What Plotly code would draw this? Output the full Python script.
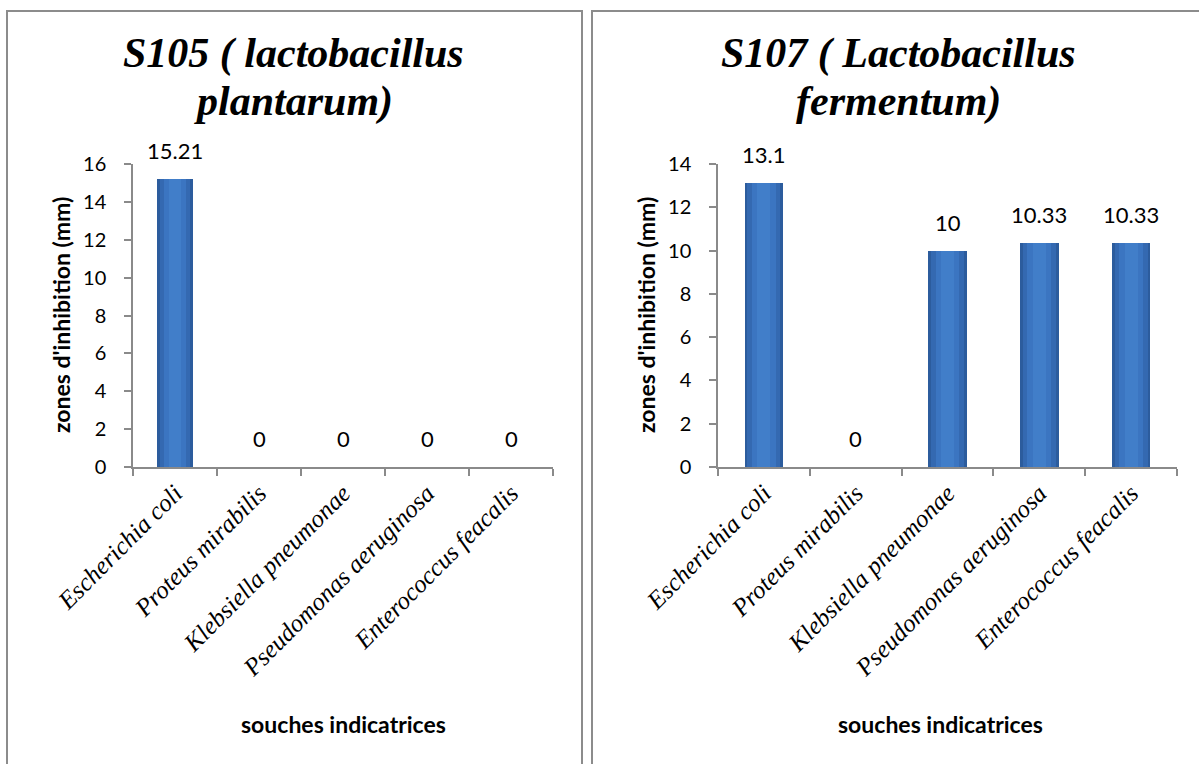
import plotly.graph_objects as go

# Inhibition zones (mm) measured against each indicator strain
souches = ["Escherichia coli", "Proteus mirabilis", "Klebsiella pneumonae",
           "Pseudomonas aeruginosa", "Enterococcus feacalis"]
s105_values = [15.21, 0, 0, 0, 0]
s107_values = [13.1, 0, 10, 10.33, 10.33]
s105_labels = ["15.21", "0", "0", "0", "0"]
s107_labels = ["13.1", "0", "10", "10.33", "10.33"]

s105_ticks = [0, 2, 4, 6, 8, 10, 12, 14, 16]
s107_ticks = [0, 2, 4, 6, 8, 10, 12, 14]

s105_title = ["S105 ( lactobacillus", "plantarum)"]
s107_title = ["S107 ( Lactobacillus", "fermentum)"]

W, H = 1199, 764
AX_GREY = "#8a8a8a"
SANS = "Lato, sans-serif"
SERIF = "Liberation Serif, Times New Roman, serif"


def px_x(v):
    return v / W


def px_y(v):
    return (H - v) / H


fig = go.Figure()

panels = [
    dict(vals=s105_values, labels=s105_labels, ticks=s105_ticks, ymax=16,
         title=s105_title, xa="x", ya="y", dom=(133, 553),
         title_x=293, ylab_x=61, xlab_x=343),
    dict(vals=s107_values, labels=s107_labels, ticks=s107_ticks, ymax=14,
         title=s107_title, xa="x2", ya="y2", dom=(718, 1177),
         title_x=898, ylab_x=646, xlab_x=940),
]

annotations = []
for i, p in enumerate(panels):
    # shaded bar: darker outer body with a lighter core
    for width, colour in [(0.42, "#2c5c9d"), (0.36, "#3469b1"), (0.26, "#3b75c1"),
                          (0.14, "#417ec9")]:
        fig.add_trace(go.Bar(
            x=souches, y=p["vals"], width=width, marker_color=colour,
            marker_line_width=0, xaxis=p["xa"], yaxis=p["ya"],
            showlegend=False, hoverinfo="skip"))
    for cat, v, lab in zip(souches, p["vals"], p["labels"]):
        annotations.append(dict(
            x=cat, y=v, xref=p["xa"], yref=p["ya"], text=lab, showarrow=False,
            yanchor="bottom", yshift=13, font=dict(family=SANS, size=22, color="#000")))
    for line, yc in zip(p["title"], (54, 101)):
        annotations.append(dict(
            x=px_x(p["title_x"]), y=px_y(yc), xref="paper", yref="paper",
            text=f"<b><i>{line}</i></b>", showarrow=False,
            xanchor="center", yanchor="middle",
            font=dict(family=SERIF, size=42, color="#000")))
    annotations.append(dict(
        x=px_x(p["ylab_x"]), y=px_y(315), xref="paper", yref="paper",
        text="<b>zones d'inhibition (mm)</b>", textangle=-90, showarrow=False,
        xanchor="center", yanchor="middle",
        font=dict(family=SANS, size=23, color="#000")))
    annotations.append(dict(
        x=px_x(p["xlab_x"]), y=px_y(724), xref="paper", yref="paper",
        text="<b>souches indicatrices</b>", showarrow=False,
        xanchor="center", yanchor="middle",
        font=dict(family=SANS, size=23, color="#000")))

axis_common = dict(showline=True, linecolor=AX_GREY, linewidth=1.5,
                   ticks="outside", tickcolor=AX_GREY, tickwidth=1.5, ticklen=7,
                   showgrid=False, zeroline=False, automargin=False)

for i, p in enumerate(panels):
    sfx = "" if i == 0 else str(i + 1)
    fig.update_layout(**{
        "xaxis" + sfx: dict(axis_common, domain=[px_x(p["dom"][0]), px_x(p["dom"][1])],
                            anchor=p["ya"], type="category", tickson="boundaries",
                            tickangle=-45,
                            tickvals=souches,
                            ticktext=[f"<i>{s}</i>" for s in souches],
                            tickfont=dict(family=SERIF, size=25, color="#000")),
        "yaxis" + sfx: dict(axis_common, domain=[px_y(467), px_y(164)],
                            anchor=p["xa"], range=[0, p["ymax"]],
                            tickvals=p["ticks"], ticklabelstandoff=14,
                            tickfont=dict(family=SANS, size=20, color="#000")),
    })

# panel frames
frame = dict(type="rect", xref="paper", yref="paper",
             line=dict(color="#8c8c8c", width=2), fillcolor="rgba(0,0,0,0)")
shapes = [
    dict(frame, x0=px_x(7), x1=px_x(582), y0=px_y(790), y1=px_y(11)),
    dict(frame, x0=px_x(592), x1=px_x(1230), y0=px_y(790), y1=px_y(11)),
]

fig.update_layout(
    template="none",
    width=W, height=H, margin=dict(l=0, r=0, t=0, b=0, pad=0, autoexpand=False),
    paper_bgcolor="white", plot_bgcolor="rgba(0,0,0,0)",
    barmode="overlay", bargap=0, showlegend=False,
    annotations=annotations, shapes=shapes,
)

fig.write_html("out.html")
